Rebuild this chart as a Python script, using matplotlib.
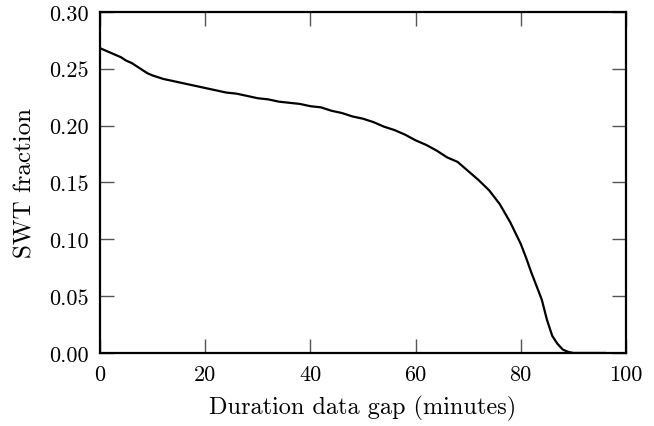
"""
SWT fraction versus duration of the data gap
"""
import matplotlib
matplotlib.use("Agg")
import matplotlib.pyplot as plt

plt.rcParams["font.family"] = ["cmr10", "DejaVu Serif"]
plt.rcParams["mathtext.fontset"] = "cm"
plt.rcParams["axes.formatter.use_mathtext"] = True

# values
gap_minutes = [0, 1, 2, 3, 4, 5, 6, 7, 8, 9, 10, 12, 14, 16, 18, 20, 22, 24, 26, 28,
               30, 32, 34, 36, 38, 40, 42, 44, 46, 48, 50, 52, 54, 56, 58, 60, 62, 64,
               66, 68, 70, 72, 74, 76, 78, 80, 81, 82, 83, 84, 85, 86, 87, 88, 89, 90, 96]
swt_fraction = [0.268, 0.266, 0.264, 0.262, 0.260, 0.257, 0.255, 0.252, 0.249, 0.246,
                0.244, 0.241, 0.239, 0.237, 0.235, 0.233, 0.231, 0.229, 0.228, 0.226,
                0.224, 0.223, 0.221, 0.220, 0.219, 0.217, 0.216, 0.213, 0.211, 0.208,
                0.206, 0.203, 0.199, 0.196, 0.192, 0.187, 0.183, 0.178, 0.172, 0.168,
                0.160, 0.152, 0.143, 0.131, 0.115, 0.096, 0.084, 0.071, 0.059, 0.047,
                0.029, 0.015, 0.008, 0.003, 0.001, 0.000, 0.000]
x_ticks = [0, 20, 40, 60, 80, 100]
y_ticks = [0.00, 0.05, 0.10, 0.15, 0.20, 0.25, 0.30]

fig = plt.figure(figsize=(6.54, 4.27), dpi=100)
ax = fig.add_axes([0.153, 0.171, 0.804, 0.799])

ax.plot(gap_minutes, swt_fraction, color="black", linewidth=1.6)

ax.set_xlim(0, 100)
ax.set_ylim(0, 0.30)
ax.set_xticks(x_ticks)
ax.set_yticks(y_ticks)
ax.set_yticklabels([f"{v:.2f}" for v in y_ticks])
ax.set_xticklabels([str(v) for v in x_ticks])

ax.tick_params(direction="in", length=10, width=1, color="#555555",
               top=True, right=True, labelsize=16, pad=8)
for s in ax.spines.values():
    s.set_linewidth(1.6)

ax.set_xlabel("Duration data gap (minutes)", fontsize=17.5, labelpad=8)
ax.set_ylabel("SWT fraction", fontsize=18, labelpad=9)

fig.savefig("out.png", dpi=100)
plt.close(fig)
